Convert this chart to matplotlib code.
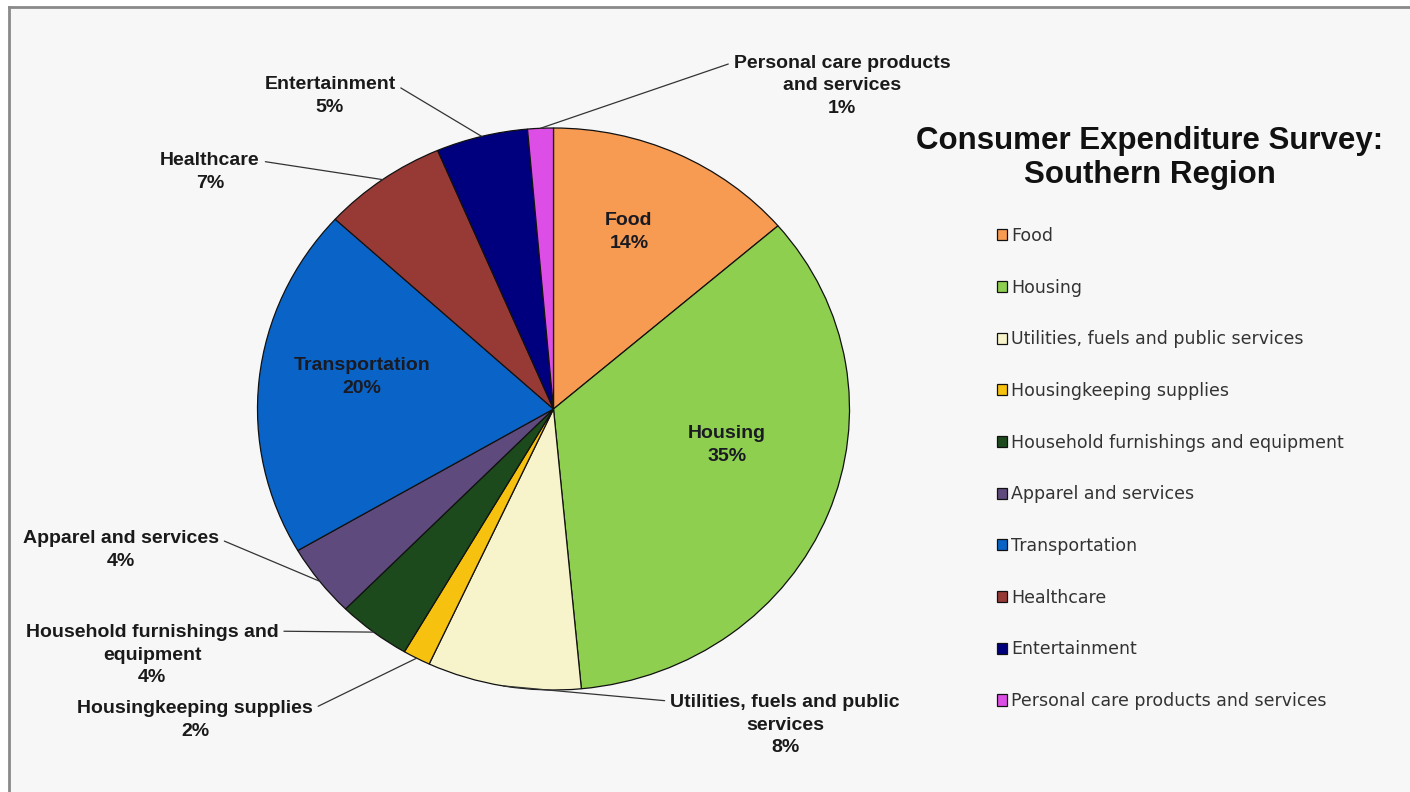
"""Consumer Expenditure Survey pie chart, Southern Region"""

import matplotlib.pyplot as plt
import numpy as np
from matplotlib.patches import Rectangle
from matplotlib.lines import Line2D

W, H = 1410, 792

categories = [
    "Food",
    "Housing",
    "Utilities, fuels and public services",
    "Housingkeeping supplies",
    "Household furnishings and equipment",
    "Apparel and services",
    "Transportation",
    "Healthcare",
    "Entertainment",
    "Personal care products and services",
]
shares = [13.7, 34.8, 8.4, 1.5, 4.0, 4.2, 20.2, 6.8, 5.0, 1.4]
colors = [
    "#f79a52", "#8fcf50", "#f7f4cb", "#f6c10f", "#1c4a1c",
    "#5f4a7d", "#0a64c8", "#973a36", "#00007f", "#dd4ee6",
]
# wrapped text used for the data labels
label_text = [
    "Food",
    "Housing",
    "Utilities, fuels and public\nservices",
    "Housingkeeping supplies",
    "Household furnishings and\nequipment",
    "Apparel and services",
    "Transportation",
    "Healthcare",
    "Entertainment",
    "Personal care products\nand services",
]


def fx(x):
    return x / W


def fy(y):
    return 1 - y / H


plt.rcParams["font.family"] = ["Liberation Sans", "DejaVu Sans"]
fig = plt.figure(figsize=(W / 100, H / 100), dpi=100, facecolor="white")

# light panel with grey border on top/left
fig.patches.append(Rectangle((fx(9), 0), 1 - fx(9), fy(7), transform=fig.transFigure,
                             facecolor="#f7f7f7", edgecolor="none", zorder=-10))
fig.lines.append(Line2D([fx(9), 1], [fy(7), fy(7)], transform=fig.transFigure,
                        color="#8a8a8a", lw=2))
fig.lines.append(Line2D([fx(9), fx(9)], [fy(7), 0], transform=fig.transFigure,
                        color="#8a8a8a", lw=2))

# pie axes (slightly stretched, as in the source image)
cx, cy, rx, ry = 553.5, 409, 296, 281
ax = fig.add_axes([fx(cx - rx), fy(cy + ry), 2 * rx / W, 2 * ry / H])
wedges, _ = ax.pie(shares, colors=colors, startangle=90, counterclock=False,
                   wedgeprops=dict(edgecolor="#111111", linewidth=0.9))
ax.set_aspect("auto")
ax.set_xlim(-1, 1)
ax.set_ylim(-1, 1)
for w in wedges:
    w.set_clip_on(False)

pcts = [f"{s:.0f}%" for s in shares]

# labels inside the pie: (index, x, y) in image pixels
inside = [(0, 629, 232), (1, 727, 445), (6, 362, 377)]
for i, x, y in inside:
    fig.text(fx(x), fy(y), f"{label_text[i]}\n{pcts[i]}", ha="center", va="center",
             fontsize=14, fontweight="bold", color="#1a1a22", linespacing=1.45)

# labels outside with leader lines: (index, text x, text y, relpos)
outside = [
    (9, 842, 86, (0, 0.88)),
    (8, 330, 96, (1, 0.78)),
    (7, 210, 172, (1, 0.78)),
    (5, 121, 550, (1, 0.78)),
    (4, 152, 655, (1, 0.88)),
    (3, 195, 720, (1, 0.78)),
    (2, 785, 725, (0, 0.88)),
]
for i, x, y, rel in outside:
    w = wedges[i]
    mid = np.deg2rad((w.theta1 + w.theta2) / 2)
    ax.annotate(f"{label_text[i]}\n{pcts[i]}", xy=(np.cos(mid), np.sin(mid)),
                xycoords="data", xytext=(x, H - y), textcoords="figure pixels",
                ha="center", va="center", fontsize=14, fontweight="bold",
                color="#1a1a1a", linespacing=1.45, annotation_clip=False,
                arrowprops=dict(arrowstyle="-", color="#333333", lw=0.9,
                                shrinkA=2, shrinkB=0, relpos=rel))

fig.text(fx(1150), fy(158), "Consumer Expenditure Survey:\nSouthern Region",
         ha="center", va="center", fontsize=22.5, fontweight="bold",
         color="#111111", linespacing=1.2)

fig.legend(wedges, categories, loc="upper left",
           bbox_to_anchor=(fx(997), fy(227)), bbox_transform=fig.transFigure,
           frameon=False, handlelength=0.6, handleheight=0.6,
           handletextpad=0.2, labelspacing=1.94, borderpad=0, borderaxespad=0,
           labelcolor="#333333", prop=dict(family="DejaVu Sans", size=12.5))

fig.savefig("out.png", dpi=100, facecolor="white")
